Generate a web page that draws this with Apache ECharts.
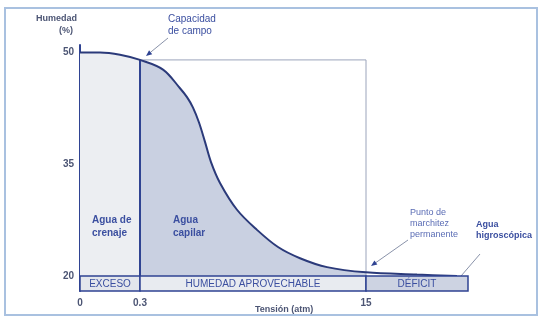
<!DOCTYPE html>
<html>
<head>
<meta charset="utf-8">
<script src="https://cdn.jsdelivr.net/npm/echarts@6/dist/echarts.min.js"></script>
<style>
  html, body { margin: 0; padding: 0; background: #fff; }
  #chart { width: 540px; height: 318px; }
</style>
</head>
<body>
<div id="chart"></div>
<script>
// schematic tension axis: positions along the axis (not to scale)
let curvePos = [0, 20, 40, 60, 83, 100, 107, 113, 119, 125, 131, 140, 157, 177, 198, 220, 247, 286, 337, 377];
let curveHum = [50, 50, 49.7, 49.0, 47.7, 45.2, 44.0, 42.6, 40.6, 38.0, 35.3, 32.5, 28.9, 26.2, 23.9, 22.4, 21.2, 20.5, 20.2, 20.0];

let tickPos = [0, 60, 286];
let tickLabels = ["0", "0.3", "15"];
let humTicks = [20, 35, 50];

let zoneNames = ["EXCESO", "HUMEDAD APROVECHABLE", "DÉFICIT"];
let zoneBounds = [0, 60, 286, 388];

let navy = "#2f4392";
let textBlue = "#3b4fa0";
let labelCol = "#4c5574";

function pts(from, to) {
  let res = [];
  for (let i = 0; i < curvePos.length; i++) {
    if (curvePos[i] >= from && curvePos[i] <= to) res.push([curvePos[i], curveHum[i]]);
  }
  return res;
}

let fcHum = curveHum[curvePos.indexOf(60)];
let zoneData = zoneNames.map((n, i) => [zoneBounds[i], zoneBounds[i + 1], i]);
let zoneFill = ["#e3e6ec", "#e8ebf0", "#cdd3e2"];

function arrow(x1, y1, x2, y2, color) {
  let a = Math.atan2(y2 - y1, x2 - x1);
  let l = 6, w = 2.5;
  let bx = x2 - l * Math.cos(a), by = y2 - l * Math.sin(a);
  return [
    { type: "line", shape: { x1: x1, y1: y1, x2: bx, y2: by }, style: { stroke: color, lineWidth: 1 } },
    {
      type: "polygon",
      shape: { points: [[x2, y2], [bx - w * Math.sin(a), by + w * Math.cos(a)], [bx + w * Math.sin(a), by - w * Math.cos(a)]] },
      style: { fill: navy }
    }
  ];
}

let smoothOpts = { smooth: 0.35 };

var myChart = echarts.init(document.getElementById("chart"));
myChart.setOption({
  animation: false,
  backgroundColor: "#fff",
  grid: { left: 80, right: 72, top: 45, bottom: 27 },
  xAxis: {
    type: "value",
    min: 0,
    max: 388,
    axisLine: { show: false },
    axisTick: { show: false },
    splitLine: { show: false },
    axisLabel: {
      customValues: tickPos,
      formatter: v => tickLabels[tickPos.indexOf(v)],
      color: labelCol,
      fontWeight: "bold",
      fontSize: 10,
      fontFamily: "Liberation Sans",
      margin: 7
    }
  },
  yAxis: {
    type: "value",
    min: 18,
    max: 51,
    axisLine: { show: true, lineStyle: { color: navy, width: 2 } },
    axisTick: { show: false },
    splitLine: { show: false },
    axisLabel: {
      customValues: humTicks,
      color: labelCol,
      fontWeight: "bold",
      fontSize: 10,
      fontFamily: "Liberation Sans",
      margin: 6
    }
  },
  series: [
    Object.assign({
      type: "line",
      data: pts(0, 60),
      symbol: "none",
      lineStyle: { width: 0 },
      areaStyle: { color: "#eceef2", opacity: 1 }
    }, smoothOpts),
    Object.assign({
      type: "line",
      data: pts(60, 286),
      symbol: "none",
      lineStyle: { width: 0 },
      areaStyle: { color: "#c9d0e1", opacity: 1 }
    }, smoothOpts),
    {
      type: "line",
      data: [[60, fcHum], [286, fcHum], [286, 20]],
      symbol: "none",
      lineStyle: { color: "#9ba4bb", width: 1 }
    },
    {
      type: "line",
      data: [[60, 20], [60, fcHum]],
      symbol: "none",
      lineStyle: { color: navy, width: 2 }
    },
    Object.assign({
      type: "line",
      data: curvePos.map((p, i) => [p, curveHum[i]]),
      symbol: "none",
      lineStyle: { color: "#2b3a7a", width: 2 }
    }, smoothOpts),
    {
      type: "custom",
      z: 10,
      data: zoneData,
      encode: { x: [0, 1] },
      renderItem: function(params, api) {
        let s = api.coord([api.value(0), 20]);
        let e = api.coord([api.value(1), 18]);
        let i = api.value(2);
        return {
          type: "group",
          children: [
            {
              type: "rect",
              shape: { x: s[0], y: s[1], width: e[0] - s[0], height: e[1] - s[1] },
              style: { fill: zoneFill[i], stroke: navy, lineWidth: 1.5 }
            },
            {
              type: "text",
              style: {
                text: zoneNames[i],
                x: (s[0] + e[0]) / 2,
                y: (s[1] + e[1]) / 2 + 1,
                align: "center",
                verticalAlign: "middle",
                fill: textBlue,
                font: "10px 'Liberation Sans'"
              }
            }
          ]
        };
      }
    }
  ],
  graphic: [
    {
      type: "rect", z: 100,
      shape: { x: 5, y: 8, width: 532, height: 307 },
      style: { fill: null, stroke: "#a9c1e0", lineWidth: 2 }
    },
    {
      type: "text", left: 36, top: 14, z: 100,
      style: { text: "Humedad", fill: labelCol, font: "bold 9px 'Liberation Sans'" }
    },
    {
      type: "text", left: 59, top: 26, z: 100,
      style: { text: "(%)", fill: labelCol, font: "bold 9px 'Liberation Sans'" }
    },
    {
      type: "text", left: 168, top: 13, z: 100,
      style: { text: "Capacidad\nde campo", fill: textBlue, font: "10px 'Liberation Sans'", lineHeight: 12 }
    },
    {
      type: "text", left: 92, top: 214, z: 100,
      style: { text: "Agua de\ncrenaje", fill: textBlue, font: "bold 10px 'Liberation Sans'", lineHeight: 13, align: "center" }
    },
    {
      type: "text", left: 173, top: 214, z: 100,
      style: { text: "Agua\ncapilar", fill: textBlue, font: "bold 10px 'Liberation Sans'", lineHeight: 13 }
    },
    {
      type: "text", left: 410, top: 207, z: 100,
      style: { text: "Punto de\nmarchitez\npermanente", fill: "#5b6db5", font: "9px 'Liberation Sans'", lineHeight: 11 }
    },
    {
      type: "text", left: 476, top: 219, z: 100,
      style: { text: "Agua\nhigroscópica", fill: textBlue, font: "bold 9px 'Liberation Sans'", lineHeight: 11 }
    },
    {
      type: "text", left: 255, top: 305, z: 100,
      style: { text: "Tensión (atm)", fill: labelCol, font: "bold 9px 'Liberation Sans'" }
    },
    {
      type: "group", z: 100,
      children: []
        .concat(arrow(168, 38, 146, 56, "#8a93aa"))
        .concat(arrow(408, 240, 371, 266, "#8a93aa"))
        .concat(arrow(480, 254, 455, 283, "#8a93aa"))
    }
  ]
});
</script>
</body>
</html>
